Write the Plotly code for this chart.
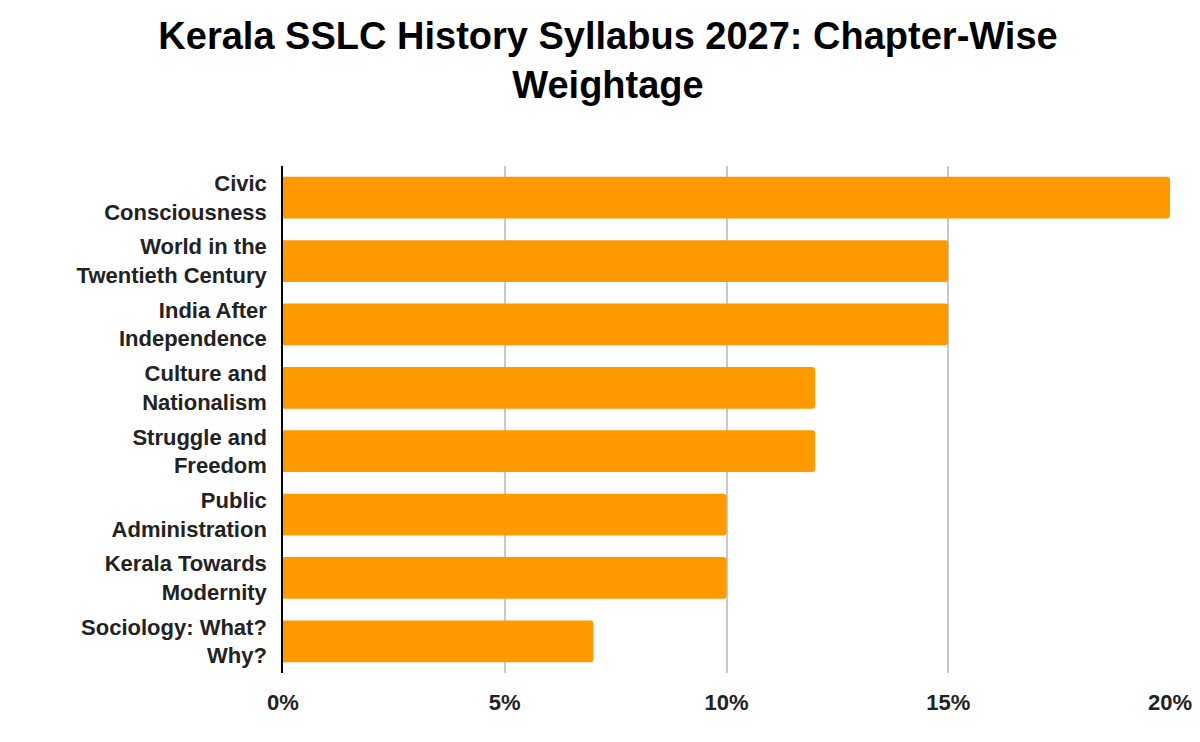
import plotly.graph_objects as go

chapters = ["Civic<br>Consciousness", "World in the<br>Twentieth Century", "India After<br>Independence",
            "Culture and<br>Nationalism", "Struggle and<br>Freedom", "Public<br>Administration",
            "Kerala Towards<br>Modernity", "Sociology: What?<br>Why?"]
weights = [0.20, 0.15, 0.15, 0.12, 0.12, 0.10, 0.10, 0.07]
x_ticks = [0, 0.05, 0.10, 0.15, 0.20]
x_tick_labels = ["0%", "5%", "10%", "15%", "20%"]

fig = go.Figure(go.Bar(x=weights, y=chapters, orientation="h",
                       marker=dict(color="#FF9900", line=dict(width=0), cornerradius=3)))
fig.update_layout(
    width=1200, height=742, plot_bgcolor="white", paper_bgcolor="white",
    margin=dict(l=275, r=38, t=158, b=77, autoexpand=False),
    title=dict(text="<b>Kerala SSLC History Syllabus 2027: Chapter-Wise<br>Weightage</b>",
               x=0.5, xanchor="center", y=0.945, yanchor="top",
               font=dict(family="Liberation Sans, Arial", size=38, color="black")),
    bargap=0.34, showlegend=False,
    font=dict(family="Liberation Sans, Arial", color="#222222"),
)
fig.update_xaxes(range=[0, 0.20], tickvals=x_ticks, ticktext=[f"<b>{t}</b>" for t in x_tick_labels],
                 showgrid=True, gridcolor="#c8c8c8", gridwidth=1.5, zeroline=False, automargin=False,
                 tickfont=dict(size=22, color="#222222"), ticklen=0, ticks="", ticklabelstandoff=14)
fig.update_yaxes(categoryorder="array", categoryarray=chapters[::-1], automargin=False,
                 tickvals=chapters, ticktext=[f"<b>{c}</b>" for c in chapters],
                 showline=True, linecolor="black", linewidth=1.5,
                 tickfont=dict(size=22, color="#222222"), ticks="", ticklen=0, ticklabelstandoff=10)
fig.write_html("out.html")
